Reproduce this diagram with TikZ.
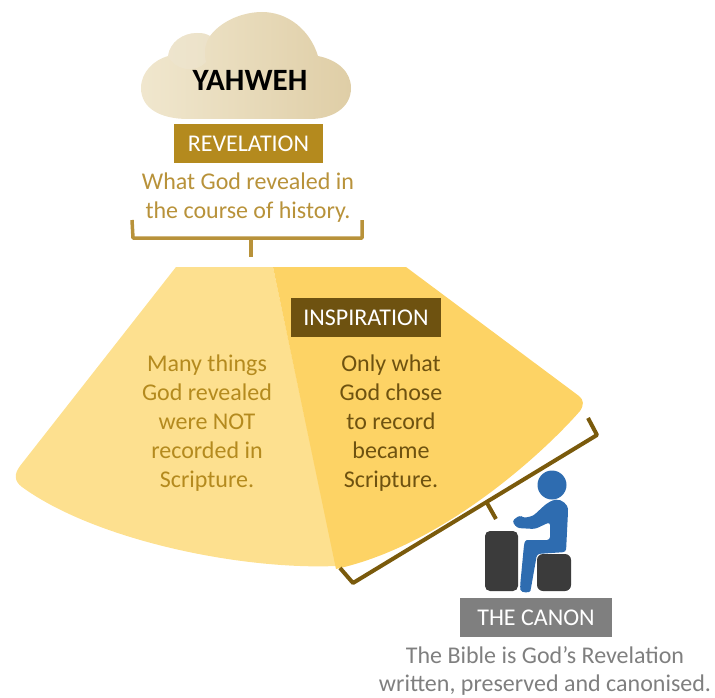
\documentclass[tikz,border=0pt]{standalone}
\usepackage{fontspec}
\setmainfont{Carlito}
\definecolor{goldbox}{HTML}{B48A1E}
\definecolor{goldtext}{HTML}{B8923A}
\definecolor{fanlight}{HTML}{FDE08F}
\definecolor{fandark}{HTML}{FDD365}
\definecolor{brown}{HTML}{6E5210}
\definecolor{brownline}{HTML}{7A5A0C}
\definecolor{blockgrey}{HTML}{3B3B3B}
\definecolor{figblue}{HTML}{2E6CB0}
\definecolor{canongrey}{HTML}{7F7F7F}
\tikzset{
  txt/.style={font=\fontsize{24}{29}\selectfont,align=center},
  tag/.style={txt,text=white,minimum height=39pt,inner sep=0pt},
}
\begin{document}
\begin{tikzpicture}[x=1pt,y=-1pt]
\useasboundingbox(0,0)rectangle(715,698);
% cloud
\shade[left color=fanlight!25!white!90!brown,right color=goldtext!45!white]
  (188,119)..controls(160,119)and(141,108)..(141,88)
  ..controls(141,72)and(154,60)..(168,56)
  ..controls(170,42)and(183,33)..(197,33)
  ..controls(204,33)and(206,34)..(210,36)
  ..controls(222,20)and(244,12)..(262,12)
  ..controls(288,12)and(310,30)..(318,56)
  ..controls(338,60)and(351,72)..(351,88)
  ..controls(351,108)and(332,119)..(310,119)--cycle;
\fill[goldtext!22!white,opacity=.45](168,56)..controls(170,42)and(183,33)..(197,33)
  ..controls(204,33)and(206,34)..(210,36)..controls(204,44)and(204,55)..(206,62)
  ..controls(195,74)and(175,70)..(168,56)--cycle;
% fan
\fill[fanlight](176,267)--(273,267)--(336,566)
  ..controls(240,570)and(95,540)..(22,487)
  ..controls(14,481)and(14,474)..(20,466)--cycle;
\fill[fandark](273,267)--(406,267)--(579,396)
  ..controls(584,400)and(584,405)..(580,411)
  ..controls(546,450)and(445,545)..(336,569)--(331,545)--cycle;
% brackets
\draw[goldtext,line width=3.5pt,line join=round](132,220)--(133,238)--(362,238)--(362,220);
\draw[goldtext,line width=3.5pt](251,238)--(251,257);
\draw[brownline,line width=4pt,line join=round](588,418)--(597,435)--(353,583)--(340,568);
\draw[brownline,line width=4pt](487,503)--(496,519);
% person at the desk
\fill[blockgrey,rounded corners=5pt](485,531)rectangle(518,591);
\fill[blockgrey,rounded corners=6pt](537,554)rectangle(571,591);
\fill[figblue](552,485)circle(14.5);
\fill[figblue,rounded corners=3pt](553,500)..controls(562,499)and(568,505)..(568,512)
  --(566,552)--(537,554)--(531,588)..controls(530,593)and(521,593)..(520,587)
  --(524,545)..controls(525,541)and(527,540)..(530,540)--(550,540)--(550,522)
  --(535,529)--(517,528)--(512,521)--(520,515)--(523,518)--(533,516)--(546,504)--cycle;
% labels
\node[font=\fontsize{31}{34}\selectfont\bfseries,text=black](yahweh)at(250,80){YAHWEH};
\node[tag,fill=goldbox,minimum width=149pt](revelation)at(248.5,143.5){REVELATION};
\node[txt,text=goldtext](revealed)at(248,198){What God revealed in\\the course of history.};
\node[tag,fill=brown,minimum width=150pt](inspiration)at(366,317.5){INSPIRATION};
\node[txt,text=goldbox](notrecorded)at(207,423.5){Many things\\God revealed\\were NOT\\recorded in\\Scripture.};
\node[txt,text=brown](recorded)at(391,423.5){Only what\\God chose\\to record\\became\\Scripture.};
\node[tag,fill=canongrey,minimum width=152pt](canon)at(536,617.5){THE CANON};
\node[txt,text=canongrey,font=\fontsize{24}{28}\selectfont](bible)at(545,670.5){The Bible is God’s Revelation\\written, preserved and canonised.};
\end{tikzpicture}
\end{document}
